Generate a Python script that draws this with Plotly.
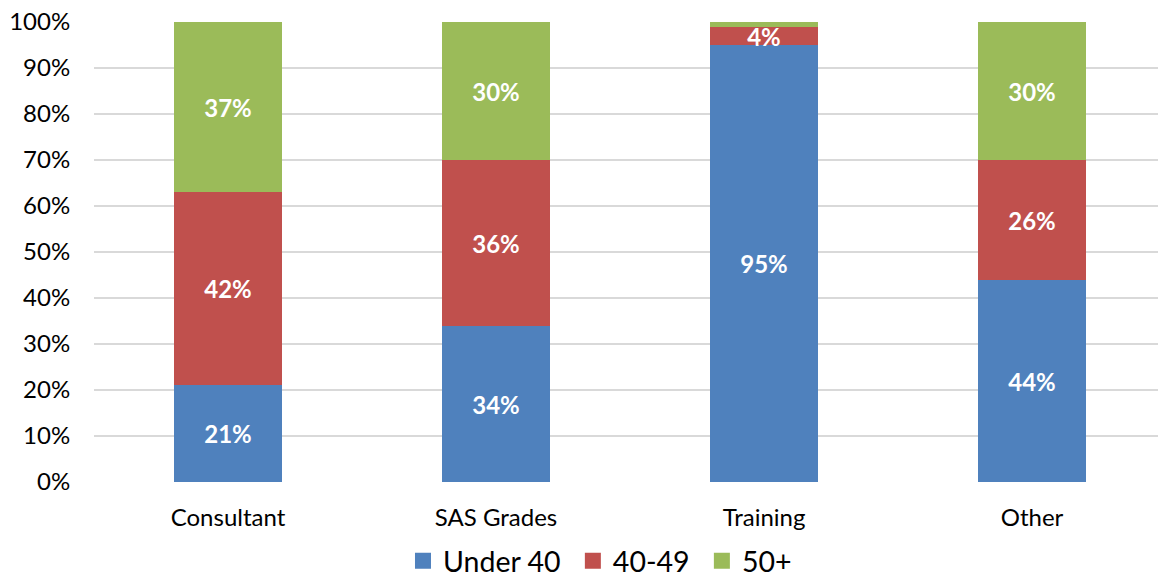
import plotly.graph_objects as go

# Share of staff by age band within each grade group (percent)
categories = ["Consultant", "SAS Grades", "Training", "Other"]
under_40 = [21, 34, 95, 44]
age_40_49 = [42, 36, 4, 26]
age_50_plus = [37, 30, 1, 30]
series_names = ["Under 40", "40-49", "50+"]
series_colors = ["#4F81BD", "#C0504D", "#9BBB59"]
y_ticks = list(range(0, 101, 10))
y_tick_labels = [f"{v}%" for v in y_ticks]

FONT = "Lato, 'Open Sans', sans-serif"
PAD = "\u00a0"  # extra breathing room between legend entries


def labels(values):
    # segments too thin to hold a label are left blank
    return [f"{v}%" if v >= 3 else "" for v in values]


fig = go.Figure()
for name, vals, color in zip(series_names, [under_40, age_40_49, age_50_plus], series_colors):
    fig.add_trace(go.Bar(
        name=name,
        legendgroup=name,
        showlegend=False,
        x=list(range(len(categories))),
        y=vals,
        width=0.403,
        marker=dict(color=color, line=dict(width=0)),
        text=labels(vals),
        textposition="inside",
        insidetextanchor="middle",
        textangle=0,
        textfont=dict(family=FONT, size=24, color="white", weight="bold"),
        hoverinfo="name+y",
    ))

# legend entries with larger square swatches
for name, color in zip(series_names, series_colors):
    fig.add_trace(go.Scatter(
        name=name + PAD,
        legendgroup=name,
        x=[None], y=[None],
        mode="markers",
        marker=dict(symbol="square", size=16, color=color),
        hoverinfo="skip",
    ))

fig.update_layout(
    barmode="stack",
    width=1158,
    height=578,
    margin=dict(l=94, r=0, t=22, b=96, autoexpand=False),
    paper_bgcolor="white",
    plot_bgcolor="white",
    font=dict(family=FONT, color="#000000"),
    uniformtext=dict(minsize=24, mode="show"),
    showlegend=True,
    legend=dict(
        orientation="h",
        x=0.2904, xanchor="left",
        y=-0.172, yanchor="middle",
        font=dict(family=FONT, size=28.5, color="#000000"),
        itemsizing="trace",
        traceorder="normal",
        itemwidth=30,
        bgcolor="rgba(0,0,0,0)",
    ),
    bargap=0,
)

fig.update_xaxes(
    range=[-0.5, 3.47],
    tickmode="array",
    tickvals=list(range(len(categories))),
    ticktext=categories,
    tickfont=dict(family=FONT, size=24, color="#000000"),
    ticks="outside", ticklen=14, tickcolor="rgba(0,0,0,0)",
    showgrid=False,
    showline=False,
    zeroline=False,
)

fig.update_yaxes(
    range=[0, 100],
    tickmode="array",
    tickvals=y_ticks,
    ticktext=y_tick_labels,
    tickfont=dict(family=FONT, size=24, color="#000000"),
    ticks="outside", ticklen=18, tickcolor="rgba(0,0,0,0)",
    showgrid=True,
    gridcolor="#D9D9D9",
    gridwidth=2,
    zeroline=False,
    showline=False,
)

fig.write_html("out.html")
